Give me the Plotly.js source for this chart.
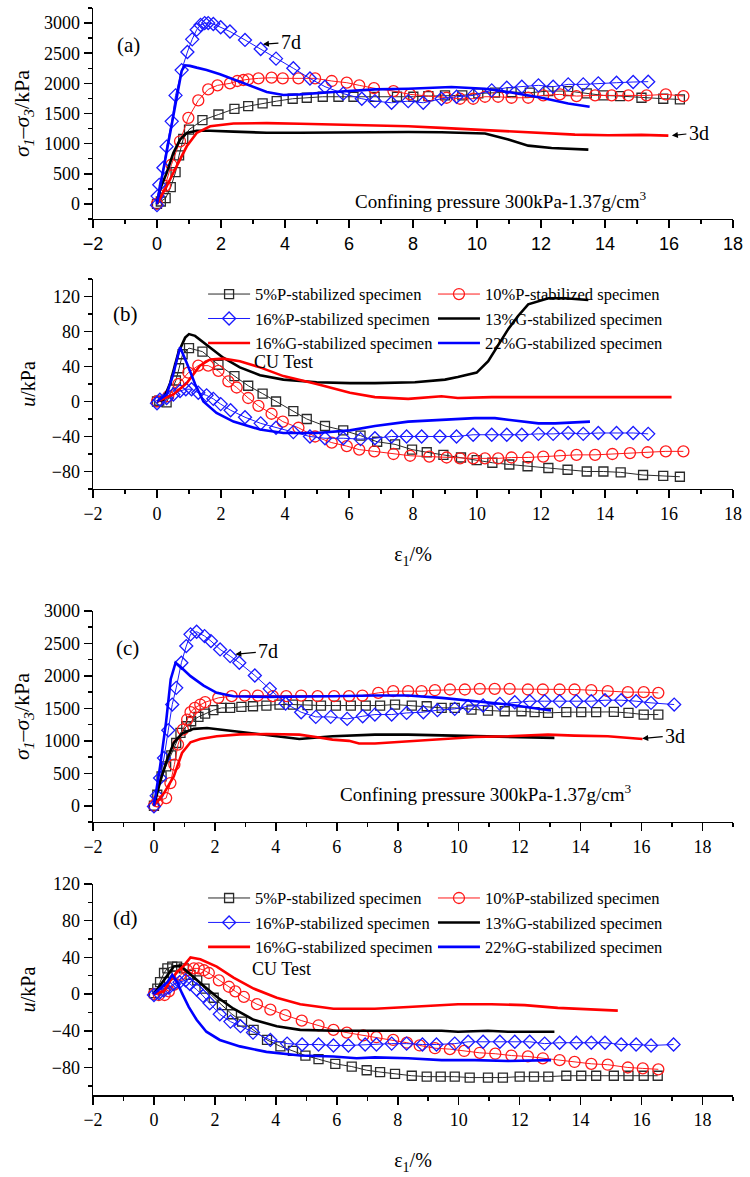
<!DOCTYPE html>
<html>
<head>
<meta charset="utf-8">
<script src="https://cdn.plot.ly/plotly-3.0.1.min.js"></script>
<style>
  html, body { margin: 0; padding: 0; background: #ffffff; }
  #chart { width: 750px; height: 1177px; }
</style>
</head>
<body>
<div id="chart"></div>
<script>
// ---------- Series names (legend order) ----------
const seriesNames = [
  '5%P-stabilized specimen', '10%P-stabilized specimen', '16%P-stabilized specimen',
  '13%G-stabilized specimen', '16%G-stabilized specimen', '22%G-stabilized specimen'
];

// ---------- (a) deviator stress, 7d curing ----------
const a5P_x = [0, 0.12, 0.27, 0.43, 0.58, 0.69, 0.82, 1.0, 1.42, 1.92, 2.42, 2.85, 3.30, 3.74, 4.24, 4.68, 5.18, 5.67, 6.14, 6.8, 7.5, 8.01, 8.48, 9.0, 9.54, 10.04, 10.56, 11.08, 11.65, 12.23, 12.85, 13.43, 13.95, 14.47, 15.14, 15.82, 16.34];
const a5P_y = [0, 40, 95, 278, 528, 805, 1078, 1233, 1389, 1483, 1578, 1622, 1667, 1705, 1745, 1761, 1778, 1778, 1778, 1775, 1778, 1778, 1789, 1800, 1800, 1833, 1845, 1856, 1845, 1872, 1872, 1833, 1800, 1789, 1761, 1745, 1733];
const a10P_x = [0, 0.25, 0.45, 0.72, 0.98, 1.29, 1.60, 1.89, 2.28, 2.51, 2.70, 2.85, 3.17, 3.58, 3.93, 4.42, 4.94, 5.46, 5.93, 6.32, 6.78, 7.39, 7.91, 8.48, 9.05, 9.47, 9.88, 10.25, 10.66, 11.08, 11.60, 12.07, 12.59, 13.11, 13.69, 14.21, 14.73, 15.30, 15.90, 16.45];
const a10P_y = [0, 300, 650, 1039, 1428, 1717, 1900, 1967, 2000, 2039, 2056, 2067, 2083, 2094, 2083, 2083, 2083, 2039, 2011, 1967, 1920, 1872, 1817, 1789, 1761, 1745, 1745, 1778, 1778, 1761, 1761, 1800, 1817, 1789, 1800, 1800, 1800, 1800, 1817, 1789];
const a16P_x = [0, 0.02, 0.07, 0.2, 0.30, 0.46, 0.58, 0.77, 0.95, 1.10, 1.24, 1.36, 1.49, 1.60, 1.76, 1.99, 2.28, 2.75, 3.24, 3.72, 4.26, 4.78, 5.25, 5.82, 6.40, 6.81, 7.33, 7.85, 8.32, 8.89, 9.36, 9.88, 10.46, 10.93, 11.40, 11.92, 12.38, 12.85, 13.32, 13.79, 14.36, 14.88, 15.35];
const a16P_y = [-20, 130, 317, 600, 950, 1370, 1800, 2220, 2520, 2730, 2890, 2970, 3000, 3000, 2985, 2930, 2860, 2720, 2570, 2410, 2250, 2080, 1945, 1830, 1745, 1705, 1678, 1705, 1678, 1745, 1778, 1800, 1883, 1928, 1945, 1967, 1945, 1983, 1983, 2000, 2011, 2022, 2028];
const a13G_x = [0, 0.1, 0.3, 0.51, 0.72, 0.93, 1.24, 1.66, 2.39, 3.43, 4.47, 5.51, 6.81, 7.85, 8.89, 10.25, 10.98, 11.60, 12.33, 13.48];
const a13G_y = [0, 250, 511, 844, 1067, 1178, 1215, 1215, 1200, 1180, 1180, 1185, 1195, 1194, 1189, 1167, 1067, 967, 928, 900];
const a16G_x = [0, 0.3, 0.61, 0.93, 1.24, 1.66, 2.39, 3.43, 4.47, 5.51, 6.81, 7.85, 8.89, 9.93, 10.98, 12.02, 13.06, 14.10, 15.14, 15.98];
const a16G_y = [0, 289, 622, 956, 1178, 1289, 1335, 1340, 1330, 1317, 1300, 1289, 1261, 1233, 1194, 1167, 1150, 1140, 1145, 1133];
const a22G_x = [0, 0.4, 0.77, 0.875, 1.03, 1.24, 1.55, 1.97, 2.39, 2.91, 3.43, 3.95, 4.47, 5.51, 6.81, 7.85, 8.89, 9.2, 10.25, 10.98, 12.02, 12.85, 13.52];
const a22G_y = [0, 1150, 2206, 2300, 2290, 2261, 2222, 2150, 2067, 1956, 1856, 1806, 1817, 1856, 1900, 1911, 1928, 1939, 1911, 1856, 1761, 1667, 1611];

// ---------- (b) pore pressure, 7d curing ----------
const b5P_x = [0, 0.07, 0.3, 0.59, 0.69, 0.8, 1.0, 1.42, 1.92, 2.42, 2.85, 3.3, 3.72, 4.26, 4.68, 5.25, 5.82, 6.36, 6.88, 7.44, 7.97, 8.43, 8.95, 9.5, 9.99, 10.48, 11.01, 11.58, 12.23, 12.83, 13.43, 13.95, 14.49, 15.19, 15.82, 16.34];
const b5P_y = [0, 1, -1, 24, 38, 54, 61, 57, 42, 29, 18, 9, 0, -11, -20, -28, -33, -39, -46, -49, -55, -58, -61, -64, -67, -70, -72, -74, -76, -78, -80, -80, -81, -84, -85, -86];
const b10P_x = [0, 0.35, 0.67, 0.98, 1.29, 1.6, 1.92, 2.23, 2.49, 2.85, 3.17, 3.58, 3.93, 4.42, 4.94, 5.46, 5.93, 6.32, 6.79, 7.39, 7.91, 8.51, 9.05, 9.47, 9.88, 10.25, 10.66, 11.08, 11.6, 12.07, 12.59, 13.11, 13.69, 14.23, 14.78, 15.33, 15.9, 16.45];
const b10P_y = [0, 6, 20, 33, 41, 41, 35, 23, 16, 4, -5, -14, -23, -30, -40, -47, -51, -55, -57, -60, -62, -63, -64, -65, -65, -65, -65, -64, -64, -63, -62, -61, -61, -60, -59, -58, -57, -57];
const b16P_x = [0, 0.09, 0.3, 0.51, 0.72, 0.9, 1.08, 1.29, 1.55, 1.76, 1.99, 2.3, 2.75, 3.24, 3.72, 4.26, 4.78, 5.25, 5.82, 6.36, 6.81, 7.33, 7.8, 8.27, 8.84, 9.36, 9.88, 10.46, 10.93, 11.4, 11.92, 12.38, 12.85, 13.32, 13.79, 14.36, 14.88, 15.35];
const b16P_y = [-2, 2, 4, 8, 12, 14, 14, 10, 7, 3, -3, -10, -18, -25, -30, -35, -40, -42, -42, -43, -42, -40, -40, -40, -40, -40, -38, -38, -38, -38, -37, -37, -36, -37, -36, -36, -36, -37];
const b13G_x = [0, 0.2, 0.41, 0.67, 0.88, 1.0, 1.19, 1.55, 2.07, 2.59, 3.22, 3.95, 4.99, 6.03, 6.81, 8.06, 9.0, 9.4, 9.99, 10.35, 10.66, 10.98, 11.29, 11.6, 12.23, 12.75, 13.48];
const b13G_y = [0, 2, 21, 56, 73, 77, 75, 65, 50, 39, 30, 25, 22, 21, 21, 22, 25, 28, 33, 46, 64, 83, 98, 111, 118, 118, 116];
const b16G_x = [0, 0.51, 0.93, 1.34, 1.66, 2.07, 2.59, 3.22, 3.95, 4.99, 6.03, 6.81, 7.85, 8.89, 9.4, 10.46, 12.02, 14.1, 16.08];
const b16G_y = [0, 8, 21, 41, 48, 49, 46, 39, 29, 20, 10, 5, 3, 6, 4, 5, 5, 5, 5];
const b22G_x = [0, 0.3, 0.5, 0.72, 0.93, 1.19, 1.45, 1.86, 2.39, 3.22, 3.95, 4.99, 6.03, 6.81, 7.85, 8.89, 9.93, 10.56, 11.19, 11.92, 12.44, 13.53];
const b22G_y = [0, 8, 30, 62, 44, 20, 0, -13, -23, -32, -36, -36, -33, -28, -23, -21, -19, -19, -22, -25, -25, -23];

// ---------- (c) deviator stress, 3d curing ----------
const c5P_x = [0, 0.11, 0.25, 0.4, 0.57, 0.73, 0.87, 1.06, 1.22, 1.46, 1.68, 1.95, 2.22, 2.5, 2.87, 3.25, 3.69, 4.12, 4.56, 5.04, 5.48, 5.97, 6.46, 6.95, 7.42, 7.91, 8.46, 8.95, 9.44, 9.87, 10.42, 10.96, 11.51, 12.06, 12.49, 12.93, 13.53, 14.02, 14.51, 15.09, 15.57, 16.07, 16.55];
const c5P_y = [0, 170, 453, 607, 777, 967, 1122, 1225, 1302, 1369, 1420, 1472, 1508, 1508, 1523, 1533, 1544, 1559, 1559, 1549, 1544, 1544, 1544, 1544, 1544, 1559, 1544, 1533, 1508, 1508, 1482, 1467, 1456, 1456, 1441, 1430, 1441, 1441, 1441, 1446, 1430, 1405, 1405];
const c10P_x = [0, 0.11, 0.4, 0.54, 0.67, 0.79, 0.95, 1.09, 1.2, 1.34, 1.52, 1.68, 2.11, 2.55, 2.98, 3.41, 3.9, 4.34, 4.83, 5.37, 5.91, 6.4, 6.84, 7.36, 7.85, 8.34, 8.78, 9.22, 9.71, 10.2, 10.69, 11.18, 11.67, 12.27, 12.76, 13.31, 13.8, 14.35, 14.89, 15.55, 16.07, 16.55];
const c10P_y = [0, 67, 118, 350, 633, 942, 1173, 1328, 1441, 1508, 1559, 1595, 1662, 1688, 1698, 1698, 1688, 1688, 1698, 1688, 1688, 1688, 1698, 1739, 1765, 1765, 1765, 1780, 1791, 1791, 1801, 1801, 1801, 1791, 1791, 1791, 1791, 1780, 1765, 1750, 1750, 1739];
const c16P_x = [0, 0.09, 0.2, 0.33, 0.47, 0.6, 0.73, 0.9, 1.06, 1.2, 1.4, 1.66, 1.87, 2.17, 2.5, 2.8, 3.31, 3.8, 4.32, 4.83, 5.31, 5.8, 6.34, 6.85, 7.25, 7.8, 8.29, 8.84, 9.3, 9.87, 10.31, 10.8, 11.35, 11.84, 12.33, 12.82, 13.31, 13.86, 14.35, 14.8, 15.33, 15.82, 16.31, 17.07];
const c16P_y = [-10, 154, 427, 736, 1163, 1559, 1816, 2203, 2460, 2640, 2681, 2614, 2537, 2408, 2305, 2203, 2007, 1801, 1575, 1441, 1369, 1369, 1338, 1379, 1405, 1405, 1430, 1441, 1472, 1492, 1534, 1544, 1570, 1595, 1611, 1611, 1611, 1611, 1611, 1626, 1626, 1611, 1585, 1559];
const c13G_x = [0, 0.22, 0.43, 0.65, 0.92, 1.3, 1.74, 2.39, 3.15, 4.01, 4.77, 5.86, 7.25, 8.34, 9.44, 11.07, 13.14];
const c13G_y = [0, 401, 710, 967, 1111, 1184, 1199, 1163, 1122, 1070, 1029, 1070, 1096, 1096, 1086, 1070, 1045];
const c16G_x = [0, 0.33, 0.65, 0.92, 1.2, 1.52, 2.06, 2.82, 3.69, 4.77, 5.31, 5.86, 6.4, 6.73, 7.25, 8.34, 9.44, 10.53, 11.62, 12.93, 13.8, 14.89, 16.03];
const c16G_y = [0, 196, 453, 813, 978, 1029, 1070, 1100, 1105, 1096, 1060, 1019, 1000, 960, 960, 993, 1029, 1060, 1070, 1096, 1081, 1070, 1029];
const c22G_x = [0, 0.2, 0.4, 0.55, 0.71, 0.87, 1.2, 1.63, 2.06, 2.61, 3.69, 4.77, 5.86, 7.25, 8.34, 9.44, 10.53, 11.62, 13.03];
const c22G_y = [0, 600, 1300, 1950, 2203, 2141, 1997, 1852, 1739, 1688, 1678, 1688, 1688, 1698, 1698, 1662, 1611, 1559, 1467];

// ---------- (d) pore pressure, 3d curing ----------
const d5P_x = [0, 0.11, 0.2, 0.33, 0.44, 0.6, 0.76, 0.98, 1.2, 1.42, 1.66, 1.96, 2.23, 2.56, 2.89, 3.27, 3.71, 4.15, 4.56, 4.97, 5.4, 5.95, 6.49, 6.98, 7.42, 7.91, 8.46, 8.95, 9.41, 9.87, 10.36, 10.96, 11.45, 12.0, 12.47, 12.94, 13.53, 14.02, 14.51, 15.09, 15.57, 16.07, 16.53];
const d5P_y = [1, 6, 13, 23, 28, 30, 30, 28, 21, 15, 6, -4, -12, -22, -30, -39, -50, -57, -62, -67, -71, -76, -79, -83, -85, -87, -89, -90, -90, -90, -91, -91, -91, -90, -90, -90, -89, -89, -89, -89, -89, -89, -89];
const d10P_x = [0, 0.16, 0.35, 0.49, 0.65, 0.87, 1.09, 1.31, 1.47, 1.64, 1.8, 2.13, 2.46, 2.67, 2.95, 3.38, 3.82, 4.31, 4.85, 5.4, 5.89, 6.33, 6.87, 7.3, 7.85, 8.3, 8.72, 9.22, 9.71, 10.18, 10.69, 11.2, 11.73, 12.27, 12.76, 13.31, 13.8, 14.35, 14.89, 15.55, 16.04, 16.55];
const d10P_y = [0, -1, -1, 3, 10, 21, 26, 28, 28, 26, 23, 15, 8, 3, -3, -11, -17, -23, -29, -34, -39, -42, -45, -47, -50, -53, -56, -59, -60, -62, -64, -65, -67, -68, -70, -72, -74, -76, -77, -80, -81, -82];
const d16P_x = [0, 0.16, 0.33, 0.49, 0.65, 0.84, 1.04, 1.18, 1.4, 1.61, 1.83, 2.16, 2.51, 2.84, 3.25, 3.82, 4.37, 4.86, 5.4, 5.89, 6.38, 6.93, 7.3, 7.8, 8.29, 8.81, 9.27, 9.87, 10.31, 10.8, 11.35, 11.84, 12.33, 12.82, 13.31, 13.86, 14.35, 14.8, 15.33, 15.82, 16.31, 17.05];
const d16P_y = [-1, 1, 4, 7, 11, 13, 15, 11, 5, -2, -10, -22, -30, -35, -42, -50, -54, -55, -55, -56, -56, -55, -55, -54, -54, -55, -55, -54, -52, -52, -52, -52, -52, -54, -53, -53, -53, -53, -55, -55, -56, -55];
const d13G_x = [0, 0.22, 0.44, 0.65, 0.87, 1.14, 1.52, 2.06, 2.61, 3.27, 4.03, 4.8, 5.89, 7.25, 8.34, 9.44, 9.98, 10.96, 11.62, 13.14];
const d13G_y = [0, 10, 21, 30, 31, 23, 12, -3, -16, -28, -35, -39, -40, -40, -40, -40, -41, -40, -41, -41];
const d16G_x = [0, 0.33, 0.54, 0.76, 0.98, 1.2, 1.52, 2.06, 2.61, 3.27, 4.03, 4.8, 5.89, 7.25, 8.34, 9.98, 11.07, 12.16, 13.25, 14.35, 15.22];
const d16G_y = [0, 3, 15, 24, 31, 40, 38, 30, 18, 6, -4, -11, -16, -16, -14, -11, -11, -12, -15, -17, -18];
const d22G_x = [0, 0.22, 0.44, 0.6, 0.76, 0.92, 1.14, 1.4, 1.72, 2.16, 2.82, 3.69, 4.8, 5.89, 6.65, 7.25, 8.34, 9.44, 10.53, 11.62, 13.03];
const d22G_y = [0, 6, 13, 21, 13, 1, -14, -28, -41, -50, -57, -63, -67, -68, -70, -69, -70, -72, -72, -73, -72];

// ---------- Styling ----------
const SERIF = '"Liberation Serif", "Times New Roman", Times, serif';
const SANS = '"Liberation Sans", Arial, Helvetica, sans-serif';
const BLACK = '#000000';

const seriesStyle = [
  { kind: 'marker', color: '#2a2a2a', symbol: 'square-open', size: 9 },
  { kind: 'marker', color: '#ff1a1a', symbol: 'circle-open', size: 11 },
  { kind: 'marker', color: '#1a1aff', symbol: 'diamond-open', size: 10 },
  { kind: 'line', color: '#000000' },
  { kind: 'line', color: '#ff0000' },
  { kind: 'line', color: '#0000ff' }
];

function makeTrace(i, x, y, xa, ya, legendId) {
  const s = seriesStyle[i];
  const t = {
    type: 'scatter', name: seriesNames[i], x: x, y: y,
    xaxis: xa, yaxis: ya, cliponaxis: false,
    showlegend: !!legendId, hoverinfo: 'skip'
  };
  if (legendId) t.legend = legendId;
  if (s.kind === 'marker') {
    t.mode = 'lines+markers';
    t.line = { color: s.color, width: 1 };
    t.marker = { symbol: s.symbol, size: s.size, color: s.color, line: { color: s.color, width: 1.3 } };
  } else {
    t.mode = 'lines';
    t.line = { color: s.color, width: 2.6 };
  }
  return t;
}

// Each pore-pressure panel carries a two-column key: left column and right column legends
const panels = [
  { xa: 'x',  ya: 'y',  legends: null,                   data: [[a5P_x, a5P_y], [a10P_x, a10P_y], [a16P_x, a16P_y], [a13G_x, a13G_y], [a16G_x, a16G_y], [a22G_x, a22G_y]] },
  { xa: 'x2', ya: 'y2', legends: ['legend', 'legend3'],  data: [[b5P_x, b5P_y], [b10P_x, b10P_y], [b16P_x, b16P_y], [b13G_x, b13G_y], [b16G_x, b16G_y], [b22G_x, b22G_y]] },
  { xa: 'x3', ya: 'y3', legends: null,                   data: [[c5P_x, c5P_y], [c10P_x, c10P_y], [c16P_x, c16P_y], [c13G_x, c13G_y], [c16G_x, c16G_y], [c22G_x, c22G_y]] },
  { xa: 'x4', ya: 'y4', legends: ['legend2', 'legend4'], data: [[d5P_x, d5P_y], [d10P_x, d10P_y], [d16P_x, d16P_y], [d13G_x, d13G_y], [d16G_x, d16G_y], [d22G_x, d22G_y]] }
];

const traces = [];
panels.forEach(p => {
  p.data.forEach((xy, i) => {
    const lg = p.legends ? p.legends[i % 2] : null;
    traces.push(makeTrace(i, xy[0], xy[1], p.xa, p.ya, lg));
  });
});

// ---------- Axes ----------
const tickCommon = { tickcolor: BLACK, tickwidth: 1.5, showline: true, linecolor: BLACK, linewidth: 1.5,
                     showgrid: false, zeroline: false, fixedrange: true };

function bottomAxis(anchor, range, font, title) {
  const ax = Object.assign({}, tickCommon, {
    anchor: anchor, domain: [0, 1], range: range, tick0: 0, dtick: 2,
    ticks: 'outside', ticklen: 8, tickfont: font,
    minor: { dtick: 1, ticks: 'outside', ticklen: 4, tickwidth: 1.5, tickcolor: BLACK, showgrid: false }
  });
  if (title) ax.title = title;
  return ax;
}
function topAxis(over, anchor, range) {
  return Object.assign({}, tickCommon, {
    overlaying: over, anchor: anchor, side: 'top', range: range, tick0: 0, dtick: 2,
    ticks: 'inside', ticklen: 8, showticklabels: false,
    minor: { dtick: 1, ticks: 'inside', ticklen: 4, tickwidth: 1.5, tickcolor: BLACK, showgrid: false }
  });
}
function leftAxis(anchor, domain, range, dtick, title) {
  return Object.assign({}, tickCommon, {
    anchor: anchor, domain: domain, range: range, tick0: 0, dtick: dtick,
    ticks: 'outside', ticklen: 8,
    tickfont: { family: SERIF, size: 18, color: BLACK },
    minor: { dtick: dtick / 2, ticks: 'outside', ticklen: 4, tickwidth: 1.5, tickcolor: BLACK, showgrid: false },
    title: title
  });
}
function rightAxis(over, anchor, range, dtick) {
  return Object.assign({}, tickCommon, {
    overlaying: over, anchor: anchor, side: 'right', range: range, tick0: 0, dtick: dtick,
    ticks: 'inside', ticklen: 8, showticklabels: false,
    minor: { dtick: dtick / 2, ticks: 'inside', ticklen: 4, tickwidth: 1.5, tickcolor: BLACK, showgrid: false }
  });
}

const rangeA = [-2, 18], rangeC = [-2, 19];
const stressTitle = {
  text: '<i>σ</i><sub><i>1</i></sub>–<i>σ</i><sub><i>3</i></sub>/kPa',
  font: { family: SERIF, size: 22, color: BLACK }, standoff: 8
};
const poreTitle = { text: '<i>u</i>/kPa', font: { family: SERIF, size: 20, color: BLACK }, standoff: 10 };
const strainTitle = { text: 'ε<sub>1</sub>/%', font: { family: SERIF, size: 20, color: BLACK }, standoff: 24 };
const serifTicks = { family: SERIF, size: 18, color: BLACK };
const sansTicks = { family: SANS, size: 18, color: BLACK };

// ---------- Text labels ----------
function label(xref, yref, x, y, text, size, anchor) {
  return { xref: xref, yref: yref, x: x, y: y, text: text, showarrow: false,
           xanchor: anchor || 'center', yanchor: 'middle',
           font: { family: SERIF, size: size, color: BLACK } };
}
function pointer(xref, yref, x, y, text, ax, ay) {
  return { xref: xref, yref: yref, x: x, y: y, text: text, showarrow: true,
           ax: ax, ay: ay, arrowhead: 2, arrowsize: 1, arrowwidth: 1.2, arrowcolor: BLACK,
           standoff: 0, startstandoff: 1,
           font: { family: SERIF, size: 20, color: BLACK } };
}
const pressureText = 'Confining pressure 300kPa-1.37g/cm<sup>3</sup>';

const annotations = [
  label('x', 'y', -0.9, 2633, '(a)', 21),
  label('x', 'y', 6.12, 67, pressureText, 19, 'left'),
  pointer('x', 'y', 3.31, 2650, '7d', 28, -2),
  pointer('x', 'y', 16.09, 1133, '3d', 27, -3),

  label('x2', 'y2', -1.0, 100, '(b)', 21),
  label('x2', 'y2', 2.97, 45, 'CU Test', 18, 'left'),

  label('x3', 'y3', -0.86, 2427, '(c)', 21),
  label('x3', 'y3', 6.04, 201, pressureText, 19, 'left'),
  pointer('x3', 'y3', 2.67, 2334, '7d', 33, -3),
  pointer('x3', 'y3', 16.02, 1035, '3d', 33, -3),

  label('x4', 'y4', -0.93, 83, '(d)', 21),
  label('x4', 'y4', 3.16, 27, 'CU Test', 18, 'left')
];

function keyColumn(x, y) {
  return {
    orientation: 'v', xanchor: 'left', yanchor: 'top', x: x, y: y,
    itemwidth: 42, bgcolor: 'rgba(0,0,0,0)', borderwidth: 0,
    font: { family: SERIF, size: 16.5, color: BLACK }, tracegroupgap: 0,
    itemclick: false, itemdoubleclick: false
  };
}

const layout = {
  width: 750, height: 1177,
  margin: { l: 93, r: 17, t: 8, b: 82 },
  paper_bgcolor: '#ffffff', plot_bgcolor: '#ffffff',
  font: { family: SERIF, color: BLACK },
  showlegend: true,
  legend:  keyColumn(0.172, 0.7527),
  legend3: keyColumn(0.5312, 0.7527),
  legend2: keyColumn(0.172, 0.1971),
  legend4: keyColumn(0.5312, 0.1971),

  xaxis:  bottomAxis('y',  rangeA, sansTicks),
  xaxis2: bottomAxis('y2', rangeA, serifTicks, strainTitle),
  xaxis3: bottomAxis('y3', rangeC, serifTicks),
  xaxis4: bottomAxis('y4', rangeC, serifTicks, strainTitle),
  xaxis5: topAxis('x',  'y',  rangeA),
  xaxis6: topAxis('x2', 'y2', rangeA),
  xaxis7: topAxis('x3', 'y3', rangeC),
  xaxis8: topAxis('x4', 'y4', rangeC),

  yaxis:  leftAxis('x',  [0.80589, 1],       [-250, 3250], 500, stressTitle),
  yaxis2: leftAxis('x2', [0.55750, 0.75069], [-100, 140],  40,  poreTitle),
  yaxis3: leftAxis('x3', [0.25115, 0.44526], [-250, 3000], 500, stressTitle),
  yaxis4: leftAxis('x4', [0, 0.19411],       [-110, 120],  40,  poreTitle),
  yaxis5: rightAxis('y',  'x',  [-250, 3250], 500),
  yaxis6: rightAxis('y2', 'x2', [-100, 140],  40),
  yaxis7: rightAxis('y3', 'x3', [-250, 3000], 500),
  yaxis8: rightAxis('y4', 'x4', [-110, 120],  40),

  annotations: annotations
};

Plotly.newPlot('chart', traces, layout, { displayModeBar: false, staticPlot: true });
</script>
</body>
</html>
